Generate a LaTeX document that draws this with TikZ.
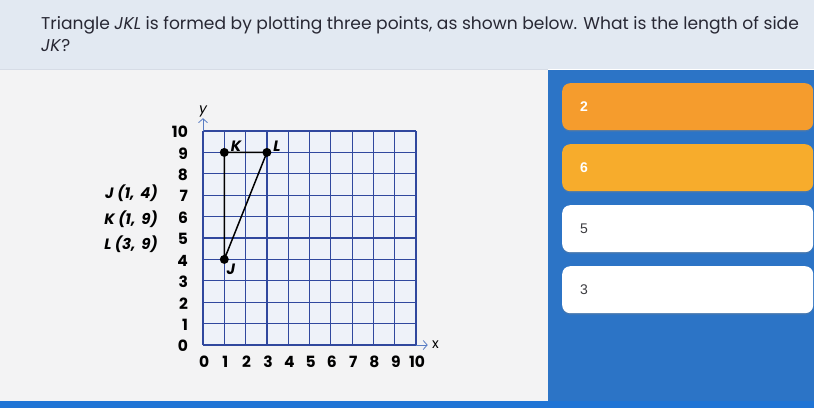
\documentclass[tikz,border=0pt]{standalone}
\usepackage{fontspec}
\setmainfont{Poppins}
\newfontfamily\answerfont{Liberation Sans}
\usetikzlibrary{positioning, arrows.meta, calc, shadows}
\definecolor{headbg}{RGB}{226, 233, 242}
\definecolor{headline}{RGB}{214, 220, 230}
\definecolor{panelbg}{RGB}{243, 243, 244}
\definecolor{panelblue}{RGB}{44, 116, 198}
\definecolor{stripblue}{RGB}{31, 116, 213}
\definecolor{gridblue}{RGB}{48, 72, 158}
\definecolor{gridbg}{RGB}{238, 242, 249}
\definecolor{axisblue}{RGB}{88, 124, 196}
\definecolor{ansorange}{RGB}{245, 156, 45}
\definecolor{ansyellow}{RGB}{247, 172, 44}
\definecolor{ansgray}{RGB}{60, 60, 64}
\definecolor{inkdark}{RGB}{40, 40, 52}

\begin{document}
\begin{tikzpicture}[x=1pt, y=-1pt,
  axisnum/.style={font=\fontsize{15.5}{17}\selectfont\bfseries, text=black, inner sep=0pt},
  ptlabel/.style={font=\fontsize{15}{16}\selectfont\bfseries\itshape, text=black, inner sep=0pt},
  dot/.style={circle, fill=black, inner sep=0pt, minimum size=9pt},
  ansbox/.style={rounded corners=8pt, minimum width=251pt, minimum height=47pt,
    text width=215pt, align=left, inner xsep=18pt, anchor=north west,
    font=\answerfont\fontsize{14}{15}\selectfont,
    drop shadow={opacity=0.3, shadow xshift=0pt, shadow yshift=-1.5pt}}]
  \useasboundingbox (0,0) rectangle (814,408);

  % Header band
  \fill[headbg] (0,0) rectangle (814,69);
  \draw[headline, line width=1pt] (0,69) -- (548,69);
  \node[anchor=north west, align=left, inner sep=0pt, text=inkdark,
    font=\fontsize{17.1}{22}\selectfont] (question) at (41,16.5) {%
    Triangle \textit{JKL} is formed by plotting three points, as shown below. What is the length of side\\
    \textit{JK}?};

  % Panels
  \fill[panelbg] (0,70) rectangle (548,401);
  \fill[panelblue] (548,70) rectangle (814,401);
  \fill[stripblue] (0,401) rectangle (814,408);

  % Point list
  \node[ptlabel, anchor=east] (listJ) at (158,193) {J (1, \,4)};
  \node[ptlabel, anchor=east] (listK) at (158,219) {K (1, \,9)};
  \node[ptlabel, anchor=east] (listL) at (158,244) {L (3, \,9)};

  % Coordinate grid
  \begin{scope}[shift={(203,345)}, x=21.3pt, y=21.4pt]
    \fill[gridbg] (0,0) rectangle (10,10);
    \draw[gridblue, line width=1.2pt, step=1] (0,0) grid (10,10);
    \coordinate (origin) at (0,0);
    \coordinate (xend) at (10.55,0);
    \coordinate (ytop) at (0,10);
    \coordinate (yend) at (0,10.6);
    \draw[axisblue, line width=0.8pt, -{Straight Barb[length=4pt, width=9pt]}] (10,0) -- (xend);
    \draw[axisblue, line width=0.8pt, -{Straight Barb[length=4pt, width=9pt]}] (ytop) -- (yend);
    \node[font=\fontsize{14}{15}\selectfont\itshape, inner sep=0pt, anchor=south] (ylab) at (0,10.65) {y};
    \node[font=\fontsize{14}{15}\selectfont, inner sep=0pt, anchor=west] (xlab) at (10.75,0) {x};
    \foreach \n in {0,...,10} {
      \node[axisnum, anchor=east] (ynum\n) at (-0.7,\n-0.05) {\n};
      \node[axisnum] (xnum\n) at (\n+0.05,-0.8) {\n};
    }

    % Triangle JKL
    \node[dot] (J) at (1,4) {};
    \node[dot] (K) at (1,9) {};
    \node[dot] (L) at (3,9) {};
    \draw[black, line width=1.5pt] (J.center) -- (K.center) -- (L.center) -- (J.center);
    \node[ptlabel, anchor=south west] (Klab) at (1.3,9.05) {K};
    \node[ptlabel, anchor=south west] (Llab) at (3.3,9.05) {L};
    \node[ptlabel, anchor=north west] (Jlab) at (1.1,3.8) {J};
  \end{scope}

  % Answer choices
  \foreach \ans/\fillc/\txtc [count=\i] in {2/ansorange/white, 6/ansyellow/white, 5/white/ansgray, 3/white/ansgray} {
    \node[ansbox, fill=\fillc, text=\txtc] (ans\i) at (562,{83+(\i-1)*61}) {\ifnum\i<3 \bfseries\fi\ans};
  }
\end{tikzpicture}
\end{document}
